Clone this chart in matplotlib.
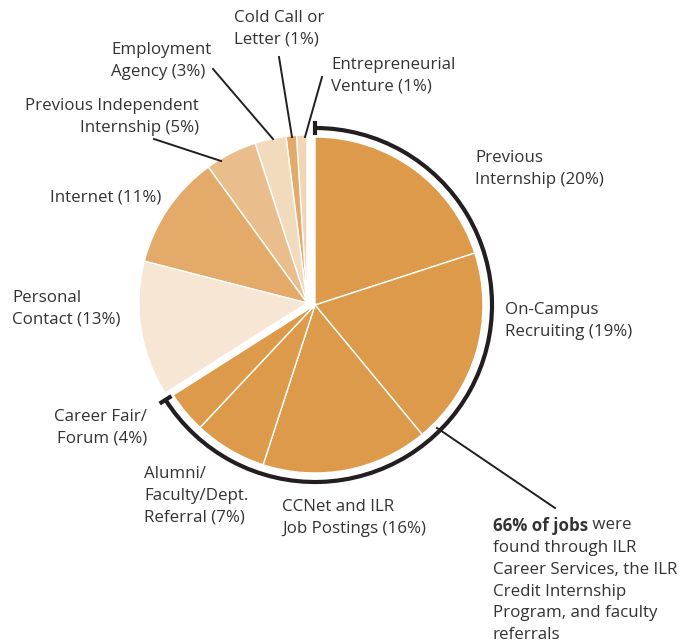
import matplotlib
matplotlib.use("Agg")
import matplotlib.pyplot as plt
import numpy as np
from matplotlib.patches import Arc

plt.rcParams['font.family'] = ['Open Sans', 'DejaVu Sans']

# Data
major_labels = ["Previous Internship", "On-Campus Recruiting", "CCNet and ILR Job Postings",
                "Alumni/Faculty/Dept. Referral", "Career Fair/Forum"]
major_values = [20, 19, 16, 7, 4]
minor_labels = ["Personal Contact", "Internet", "Previous Independent Internship",
                "Employment Agency", "Cold Call or Letter", "Entrepreneurial Venture"]
minor_values = [13, 11, 5, 3, 1, 1]

major_color = "#DD9A4A"
minor_colors = ["#F7E6D3", "#E3AA6A", "#E9BE8C", "#F2DBBD", "#E3AA6A", "#F2D6B4"]

W, H = 682, 642
fig = plt.figure(figsize=(W / 100, H / 100), dpi=100)
ax = fig.add_axes([0, 0, 1, 1])

def Y(py):
    return H - py

R = 168
cmaj = (315, Y(305))
cmin = (307, Y(303))
total = sum(major_values) + sum(minor_values)

ax.pie([v / total for v in major_values], colors=[major_color] * len(major_values),
       startangle=90, counterclock=False, normalize=False, center=cmaj, radius=R,
       wedgeprops=dict(edgecolor="white", linewidth=1.0))
ax.pie([v / total for v in minor_values[::-1]], colors=minor_colors[::-1],
       startangle=90, counterclock=True, normalize=False, center=cmin, radius=R,
       wedgeprops=dict(edgecolor="white", linewidth=1.0))

# Bracket arc around the 66% group
Rb = 177
end_ang = 90 - 360 * sum(major_values) / total
arc = Arc(cmaj, 2 * Rb, 2 * Rb, theta1=end_ang, theta2=90, color="#231F20", lw=3)
ax.add_patch(arc)
for ang in (90, end_ang):
    a = np.radians(ang)
    px, py = cmaj[0] + Rb * np.cos(a), cmaj[1] + Rb * np.sin(a)
    dx, dy = np.cos(a), np.sin(a)
    ax.plot([px - 7 * dx, px + 7 * dx], [py - 7 * dy, py + 7 * dy], color="#231F20", lw=3,
            solid_capstyle="butt")

# leader lines
lc = "#231F20"
leaders = [((279, 57), (292, 137)), ((322, 77), (305, 137)), ((213, 69), (273, 139)),
           ((154, 139), (221, 161)), ((437, 428), (555, 508))]
for (x1, y1), (x2, y2) in leaders:
    ax.plot([x1, x2], [Y(y1), Y(y2)], color=lc, lw=1.4)

tc = "#333333"
fs = 12.2
LS = 1.48
def txt(x, y, s, ha="left", **kw):
    return ax.text(x, Y(y), s, ha=ha, va="top", fontsize=fs, color=tc, linespacing=LS, **kw)

dy0 = 6
txt(234, 4 + dy0, "Cold Call or\nLetter (1%)")
txt(331, 51 + dy0, "Entrepreneurial\nVenture (1%)")
txt(111, 36 + dy0, "Employment\nAgency (3%)")
txt(199, 92 + dy0, "Previous Independent\nInternship (5%)", ha="right")
txt(50, 184 + dy0, "Internet (11%)")
txt(12, 284 + dy0, "Personal\nContact (13%)")
txt(147, 403 + dy0, "Career Fair/\nForum (4%)", ha="right")
txt(144, 460 + dy0, "Alumni/\nFaculty/Dept.\nReferral (7%)")
txt(282, 493 + dy0, "CCNet and ILR\nJob Postings (16%)")
txt(505, 296 + dy0, "On-Campus\nRecruiting (19%)")
txt(475, 144 + dy0, "Previous\nInternship (20%)")

# annotation with bold lead-in
ax.set_xlim(0, W)
ax.set_ylim(0, H)
ax.set_aspect("equal")
ax.axis("off")
r = fig.canvas.get_renderer()
b = txt(493, 511 + dy0, "66% of jobs", fontweight="bold")
bw = b.get_window_extent(renderer=r).width
txt(493 + bw, 511 + dy0, " were")
line_h = 23
txt(493, 511 + dy0 + line_h,
    "found through ILR\nCareer Services, the ILR\nCredit Internship\nProgram, and faculty\nreferrals")

fig.savefig("out.png", dpi=100)
